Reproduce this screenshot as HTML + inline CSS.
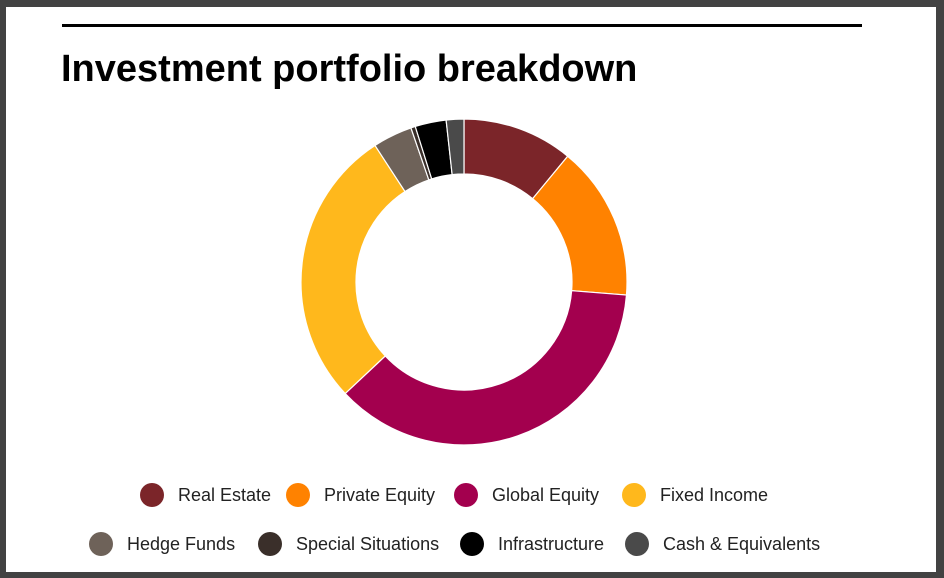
<!DOCTYPE html>
<html><head><meta charset="utf-8"><style>
html,body{margin:0;padding:0}
body{width:944px;height:578px;position:relative;background:#424242;overflow:hidden;font-family:"Liberation Sans",sans-serif}
#card{position:absolute;left:6px;top:7px;width:930px;height:565px;background:#fff}
#rule{position:absolute;left:62px;top:24px;width:800px;height:3px;background:#000}
h1{position:absolute;left:61px;top:48px;margin:0;font-size:38px;font-weight:bold;color:#000;letter-spacing:0px}
.lg{position:absolute;font-size:18px;color:#222;white-space:nowrap;line-height:24px}
.lg i{position:absolute;left:-38px;top:0;width:24px;height:24px;border-radius:50%}
</style></head><body>
<div id="card"></div>
<div id="rule"></div>
<h1>Investment portfolio breakdown</h1>
<svg id="d" width="944" height="578" style="position:absolute;left:0;top:0"></svg>
<div class="lg" style="left:178px;top:483px"><i style="background:#7b2529"></i>Real Estate</div>
<div class="lg" style="left:324px;top:483px"><i style="background:#ff8200"></i>Private Equity</div>
<div class="lg" style="left:492px;top:483px"><i style="background:#a3004e"></i>Global Equity</div>
<div class="lg" style="left:660px;top:483px"><i style="background:#ffb81c"></i>Fixed Income</div>
<div class="lg" style="left:127px;top:532px"><i style="background:#6e6259"></i>Hedge Funds</div>
<div class="lg" style="left:296px;top:532px"><i style="background:#3a2f2a"></i>Special Situations</div>
<div class="lg" style="left:498px;top:532px"><i style="background:#000"></i>Infrastructure</div>
<div class="lg" style="left:663px;top:532px"><i style="background:#4a4a4a"></i>Cash &amp; Equivalents</div>
<script>
var cx=464,cy=282,R=163,r=108;
var segs=[[0,39.5,"#7b2529"],[39.5,94.6,"#ff8200"],[94.6,226.8,"#a3004e"],[226.8,326.9,"#ffb81c"],[326.9,341,"#6e6259"],[341,342.6,"#3a2f2a"],[342.6,353.7,"#000"],[353.7,360,"#4a4a4a"]];
function p(a,rad){a=a*Math.PI/180;return [cx+rad*Math.sin(a),cy-rad*Math.cos(a)];}
var s="";
segs.forEach(function(g){var a=g[0],b=g[1],l=(b-a)>180?1:0;
var A=p(a,R),B=p(b,R),C=p(b,r),D=p(a,r);
s+='<path d="M'+A+' A'+R+','+R+' 0 '+l+' 1 '+B+' L'+C+' A'+r+','+r+' 0 '+l+' 0 '+D+' Z" fill="'+g[2]+'" stroke="#fff" stroke-width="1.2"/>';});
document.getElementById("d").innerHTML=s;
</script>
</body></html>
